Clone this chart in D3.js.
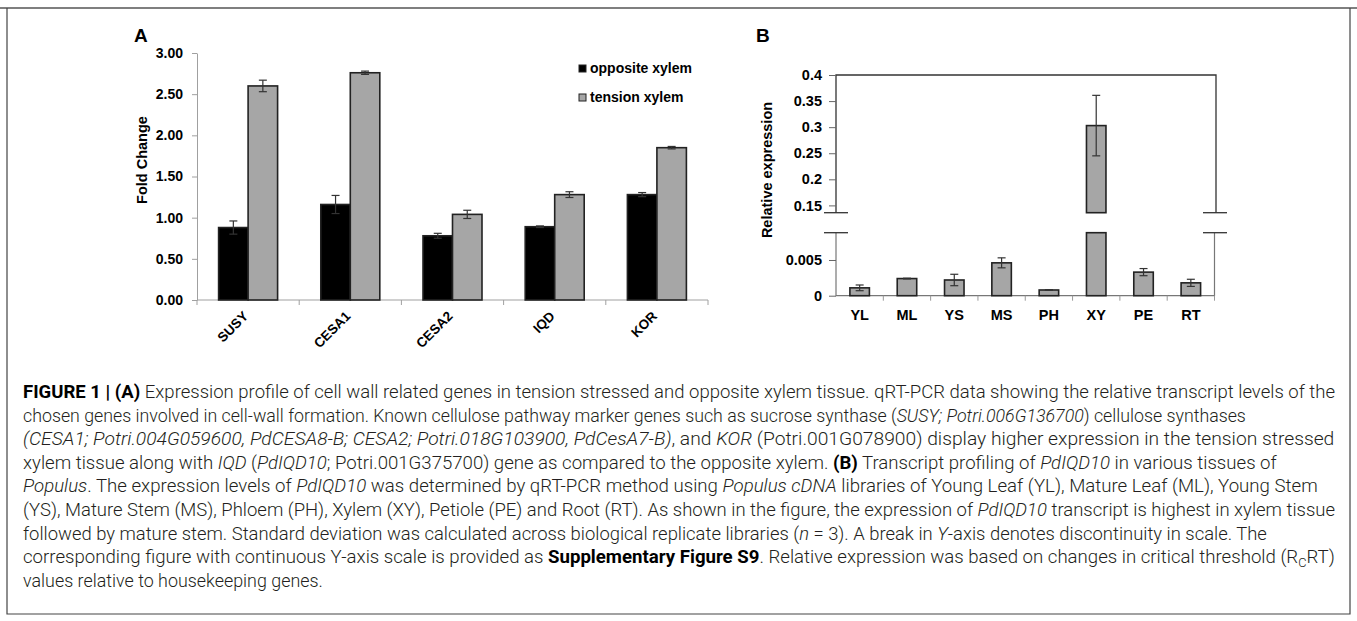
<!DOCTYPE html>
<html>
<head>
<meta charset="utf-8">
<script src="https://cdnjs.cloudflare.com/ajax/libs/d3/7.8.5/d3.min.js"></script>
<style>
  body { margin: 0; background: #fff; }
  svg { display: block; }
  .lab { font-family: "Liberation Sans", Arial, sans-serif; font-weight: bold; fill: #000; }
</style>
</head>
<body>
<svg id="fig" width="1357" height="621"></svg>
<script>
// panel A data
const GENES = ["SUSY", "CESA1", "CESA2", "IQD", "KOR"];
const SERIES_A = ["opposite xylem", "tension xylem"];
const OPPOSITE = [0.88, 1.16, 0.78, 0.89, 1.28];
const OPPOSITE_ERR = [0.08, 0.11, 0.03, 0.01, 0.025];
const TENSION = [2.60, 2.76, 1.04, 1.28, 1.85];
const TENSION_ERR = [0.07, 0.02, 0.05, 0.035, 0.015];
const TICKS_A = [0, 0.5, 1, 1.5, 2, 2.5, 3];

// panel B data
const TISSUES = ["YL", "ML", "YS", "MS", "PH", "XY", "PE", "RT"];
const EXPR = [0.0011, 0.0024, 0.0022, 0.0046, 0.0008, 0.303, 0.0033, 0.0018];
const EXPR_ERR = [0.0004, 0.00005, 0.0008, 0.0007, 0.00005, 0.058, 0.0005, 0.0005];
const TICKS_B_HIGH = [0.15, 0.2, 0.25, 0.3, 0.35, 0.4];
const TICKS_B_LOW = [0, 0.005];

const svg = d3.select("#fig");
const DARK = "#333";
const GREY = "#a6a6a6";
const AXIS_GREY = "#a0a0a0";

// frame
svg.append("line").attr("x1", 0).attr("x2", 1357).attr("y1", 8).attr("y2", 8)
    .attr("stroke", "#555").attr("stroke-width", 1.5);
svg.append("path").attr("d", "M7,8V614H1350V8").attr("fill", "none")
    .attr("stroke", "#444").attr("stroke-width", 1.2);

// ---------- panel A ----------
function drawA() {
    const y = d3.scaleLinear().domain([0, 3]).range([300, 53]);
    const x = d3.scaleBand().domain(GENES).range([197, 708]);
    const bw = 29.5;

    svg.append("text").attr("class", "lab").attr("x", 134).attr("y", 42)
        .style("font-size", "19px").text("A");

    const yAxis = svg.append("g").attr("transform", "translate(197,0)")
        .call(d3.axisLeft(y).tickValues(TICKS_A).tickFormat(d3.format(".2f")).tickSize(5).tickSizeOuter(0));
    yAxis.select(".domain").attr("stroke", AXIS_GREY);
    yAxis.selectAll(".tick line").attr("stroke", AXIS_GREY);
    yAxis.selectAll(".tick text").attr("class", "lab").attr("x", -14)
        .style("font-size", "14px").attr("fill", "#000");

    // x axis with boundary ticks
    svg.append("line").attr("x1", x.range()[0]).attr("x2", x.range()[1])
        .attr("y1", y(0)).attr("y2", y(0)).attr("stroke", AXIS_GREY);
    const bounds = GENES.map(g => x(g)).concat([x.range()[1]]);
    svg.selectAll(".tickA").data(bounds).join("line")
        .attr("x1", d => d).attr("x2", d => d)
        .attr("y1", y(0)).attr("y2", y(0) + 5).attr("stroke", AXIS_GREY);

    const rows = GENES.map((g, i) => ({ g, o: OPPOSITE[i], oe: OPPOSITE_ERR[i], t: TENSION[i], te: TENSION_ERR[i] }));
    const grp = svg.append("g");
    rows.forEach(r => {
        const cx = x(r.g) + x.bandwidth() / 2;
        [[r.o, r.oe, "#000", cx - bw], [r.t, r.te, GREY, cx]].forEach(([v, e, fill, bx]) => {
            grp.append("rect").attr("x", bx).attr("y", y(v)).attr("width", bw)
                .attr("height", y(0) - y(v)).attr("fill", fill)
                .attr("stroke", "#222").attr("stroke-width", 1.6);
            const ex = bx + bw / 2;
            grp.append("line").attr("x1", ex).attr("x2", ex).attr("y1", y(v + e)).attr("y2", y(v - e))
                .attr("stroke", DARK).attr("stroke-width", 1.2);
            [v + e, v - e].forEach(w => grp.append("line").attr("x1", ex - 4).attr("x2", ex + 4)
                .attr("y1", y(w)).attr("y2", y(w)).attr("stroke", DARK).attr("stroke-width", 1.2));
        });
        svg.append("text").attr("class", "lab")
            .attr("transform", `translate(${cx + 1},${y(0) + 17}) rotate(-45)`)
            .attr("text-anchor", "end").style("font-size", "13.5px").text(r.g);
    });

    svg.append("text").attr("class", "lab")
        .attr("transform", "translate(147,160) rotate(-90)")
        .attr("text-anchor", "middle").style("font-size", "14.5px").text("Fold Change");

    // legend
    const lg = svg.append("g");
    SERIES_A.forEach((s, i) => {
        const yy = 65 + i * 29;
        lg.append("rect").attr("x", 579).attr("y", yy).attr("width", 7).attr("height", 7)
            .attr("fill", i === 0 ? "#000" : GREY).attr("stroke", "#222").attr("stroke-width", 1);
        lg.append("text").attr("class", "lab").attr("x", 590).attr("y", yy + 7.5)
            .style("font-size", "14px").text(s);
    });
}

// ---------- panel B ----------
function drawB() {
    const yHigh = d3.scaleLinear().domain([0.136, 0.4]).range([212.7, 75]);
    const yLow = d3.scaleLinear().domain([0, 0.00882]).range([295.7, 232.7]);
    const x = d3.scaleBand().domain(TISSUES).range([836, 1214.5]);
    const bw = 19.5;
    const x0 = x.range()[0], x1 = x.range()[1];

    svg.append("text").attr("class", "lab").attr("x", 756).attr("y", 42)
        .style("font-size", "19px").text("B");

    // upper frame (top + right)
    svg.append("path")
        .attr("d", `M${x0},${yHigh.range()[0]}V${yHigh.range()[1]}H${x1 + 1.5}V${yHigh.range()[0]}`)
        .attr("fill", "none").attr("stroke", DARK).attr("stroke-width", 1.3);
    // lower frame
    svg.append("path")
        .attr("d", `M${x0},${yLow.range()[1]}V${yLow(0)}H${x1}V${yLow.range()[1]}`)
        .attr("fill", "none").attr("stroke", "#777").attr("stroke-width", 1.2);
    // break marks
    [yHigh.range()[0], yLow.range()[1]].forEach(yy => {
        [x0, x1 + 0.5].forEach(xx => svg.append("line").attr("x1", xx - 12).attr("x2", xx + 12)
            .attr("y1", yy).attr("y2", yy).attr("stroke", DARK).attr("stroke-width", 1.3));
    });

    const hi = svg.append("g").attr("transform", `translate(${x0},0)`)
        .call(d3.axisLeft(yHigh).tickValues(TICKS_B_HIGH).tickFormat(d => String(d)).tickSize(7).tickSizeOuter(0));
    const lo = svg.append("g").attr("transform", `translate(${x0},0)`)
        .call(d3.axisLeft(yLow).tickValues(TICKS_B_LOW).tickFormat(d => String(d)).tickSize(7).tickSizeOuter(0));
    [hi, lo].forEach(a => {
        a.select(".domain").remove();
        a.selectAll(".tick line").attr("stroke", "#666");
        a.selectAll(".tick text").attr("class", "lab").attr("x", -14)
            .style("font-size", "14.5px").attr("fill", "#000");
    });

    const bounds = TISSUES.map(t => x(t)).slice(1).concat([x1]);
    svg.selectAll(".tickB").data(bounds).join("line")
        .attr("x1", d => d).attr("x2", d => d)
        .attr("y1", yLow(0)).attr("y2", yLow(0) + 5).attr("stroke", "#999");

    const grp = svg.append("g");
    TISSUES.forEach((t, i) => {
        const v = EXPR[i], e = EXPR_ERR[i];
        const bx = x(t) + (x.bandwidth() - bw) / 2;
        const ex = bx + bw / 2;
        let ys;
        if (v <= yLow.domain()[1]) {
            grp.append("rect").attr("x", bx).attr("y", yLow(v)).attr("width", bw)
                .attr("height", yLow(0) - yLow(v)).attr("fill", GREY).attr("stroke", "#222").attr("stroke-width", 1.6);
            ys = yLow;
        } else {
            grp.append("rect").attr("x", bx).attr("y", yLow.range()[1]).attr("width", bw)
                .attr("height", yLow(0) - yLow.range()[1]).attr("fill", GREY).attr("stroke", "#222").attr("stroke-width", 1.6);
            grp.append("rect").attr("x", bx).attr("y", yHigh(v)).attr("width", bw)
                .attr("height", yHigh.range()[0] - yHigh(v)).attr("fill", GREY).attr("stroke", "#222").attr("stroke-width", 1.6);
            ys = yHigh;
        }
        grp.append("line").attr("x1", ex).attr("x2", ex).attr("y1", ys(v + e)).attr("y2", ys(v - e))
            .attr("stroke", DARK).attr("stroke-width", 1.2);
        [v + e, v - e].forEach(w => grp.append("line").attr("x1", ex - 4).attr("x2", ex + 4)
            .attr("y1", ys(w)).attr("y2", ys(w)).attr("stroke", DARK).attr("stroke-width", 1.2));

        svg.append("text").attr("class", "lab").attr("x", x(t) + x.bandwidth() / 2).attr("y", 320)
            .attr("text-anchor", "middle").style("font-size", "14.5px").text(t);
    });

    svg.append("text").attr("class", "lab")
        .attr("transform", "translate(772,170) rotate(-90)")
        .attr("text-anchor", "middle").style("font-size", "14.5px").text("Relative expression");
}

// ---------- caption ----------
const CAPTION = [
    [["b", "FIGURE 1 | (A)"], ["", " Expression profile of cell wall related genes in tension stressed and opposite xylem tissue. qRT-PCR data showing the relative transcript levels of the"]],
    [["", "chosen genes involved in cell-wall formation. Known cellulose pathway marker genes such as sucrose synthase ("], ["i", "SUSY; Potri.006G136700"], ["", ") cellulose synthases"]],
    [["i", "(CESA1; Potri.004G059600, PdCESA8-B; CESA2; Potri.018G103900, PdCesA7-B)"], ["", ", and "], ["i", "KOR"], ["", " (Potri.001G078900) display higher expression in the tension stressed"]],
    [["", "xylem tissue along with "], ["i", "IQD"], ["", " ("], ["i", "PdIQD10"], ["", "; Potri.001G375700) gene as compared to the opposite xylem. "], ["b", "(B)"], ["", " Transcript profiling of "], ["i", "PdIQD10"], ["", " in various tissues of"]],
    [["i", "Populus"], ["", ". The expression levels of "], ["i", "PdIQD10"], ["", " was determined by qRT-PCR method using "], ["i", "Populus cDNA"], ["", " libraries of Young Leaf (YL), Mature Leaf (ML), Young Stem"]],
    [["", "(YS), Mature Stem (MS), Phloem (PH), Xylem (XY), Petiole (PE) and Root (RT). As shown in the figure, the expression of "], ["i", "PdIQD10"], ["", " transcript is highest in xylem tissue"]],
    [["", "followed by mature stem. Standard deviation was calculated across biological replicate libraries ("], ["i", "n"], ["", " = 3). A break in "], ["i", "Y"], ["", "-axis denotes discontinuity in scale. The"]],
    [["", "corresponding figure with continuous Y-axis scale is provided as "], ["b", "Supplementary Figure S9"], ["", ". Relative expression was based on changes in critical threshold (R"], ["sub", "C"], ["", "RT)"]],
    [["", "values relative to housekeeping genes."]]
];
const LINE_END = [1336, 1247, 1336, 1278, 1318, 1336, 1268, 1336, 323];

function drawCaption() {
    const x0 = 23, y0 = 398, lh = 23.6;
    CAPTION.forEach((segs, i) => {
        const g = svg.append("g");
        const t = g.append("text").attr("x", 0).attr("y", 0)
            .style("font-family", "Roboto, 'Liberation Sans', sans-serif")
            .style("font-size", "17.5px").style("font-weight", 300).attr("fill", "#231f20");
        segs.forEach(([k, s]) => {
            const sp = t.append("tspan").text(s);
            if (k === "b") sp.style("font-weight", "bold").attr("fill", "#000");
            if (k === "i") sp.style("font-style", "italic");
            if (k === "sub") sp.style("font-size", "12px").attr("dy", 4);
            if (k === "" && segs.some(q => q[0] === "sub") && s === "RT)") sp.attr("dy", -4);
        });
        const w = t.node().getComputedTextLength();
        const sx = (LINE_END[i] - x0) / w;
        g.attr("transform", `translate(${x0},${y0 + i * lh}) scale(${sx},1)`);
    });
}

drawA();
drawB();
drawCaption();
</script>
</body>
</html>
